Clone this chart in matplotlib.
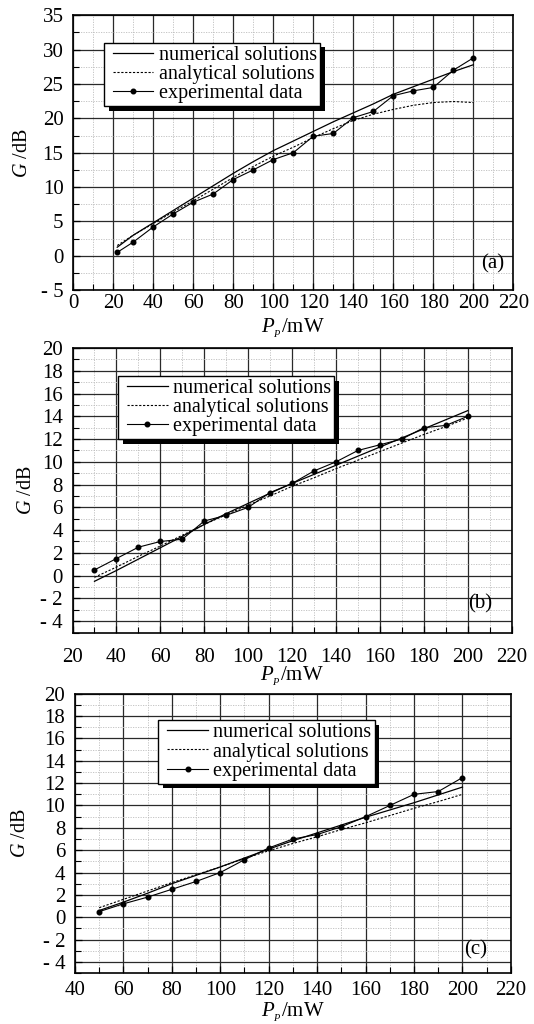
import matplotlib
matplotlib.use('Agg')
import matplotlib.pyplot as plt
import matplotlib.patheffects as pe
from matplotlib.legend_handler import HandlerLine2D
from matplotlib.lines import Line2D
from matplotlib.ticker import MultipleLocator

plt.rcParams['font.family'] = ['Liberation Serif', 'DejaVu Serif']
plt.rcParams['mathtext.fontset'] = 'custom'
plt.rcParams['mathtext.rm'] = 'Liberation Serif'
plt.rcParams['mathtext.it'] = 'Liberation Serif:italic'

# ---------------- data ----------------
SERIES_LABELS = ['numerical solutions', 'analytical solutions', 'experimental data']

A_X = [22, 30, 40, 50, 60, 70, 80, 90, 100, 110, 120, 130, 140, 150, 160, 170, 180, 190, 200]
A_NUM = [1.25, 3.0, 4.8, 6.6, 8.4, 10.2, 12.0, 13.7, 15.3, 16.7, 18.1, 19.5, 20.8, 22.1, 23.5, 24.6, 25.7, 26.8, 27.8]
A_ANA = [1.5, 3.0, 4.7, 6.4, 8.0, 9.7, 11.4, 13.0, 14.5, 15.8, 17.2, 18.5, 19.7, 20.6, 21.3, 21.9, 22.3, 22.45, 22.3]
A_EXP = [0.5, 2.0, 4.2, 6.1, 7.8, 9.0, 11.1, 12.5, 14.0, 15.0, 17.4, 17.8, 20.1, 21.0, 23.3, 24.0, 24.5, 27.0, 28.8]

B_X = [30, 40, 50, 60, 70, 80, 90, 100, 110, 120, 130, 140, 150, 160, 170, 180, 190, 200]
B_NUM = [-0.5, 0.45, 1.45, 2.45, 3.45, 4.5, 5.45, 6.35, 7.25, 8.1, 8.9, 9.7, 10.5, 11.3, 12.1, 12.9, 13.7, 14.5]
B_ANA = [-0.15, 0.75, 1.7, 2.6, 3.55, 4.5, 5.35, 6.2, 7.0, 7.85, 8.6, 9.4, 10.15, 10.9, 11.65, 12.4, 13.1, 13.85]
B_EXP = [0.5, 1.5, 2.5, 3.0, 3.2, 4.8, 5.3, 6.0, 7.3, 8.1, 9.2, 10.0, 11.0, 11.5, 12.0, 13.0, 13.2, 14.0]

C_X = [50, 60, 70, 80, 90, 100, 110, 120, 130, 140, 150, 160, 170, 180, 190, 200]
C_NUM = [0.6, 1.35, 2.15, 3.0, 3.75, 4.5, 5.3, 6.1, 6.85, 7.55, 8.25, 8.95, 9.6, 10.25, 10.95, 11.65]
C_ANA = [0.85, 1.6, 2.35, 3.1, 3.8, 4.5, 5.25, 5.95, 6.6, 7.2, 7.85, 8.45, 9.1, 9.75, 10.35, 11.0]
C_EXP = [0.5, 1.2, 1.8, 2.5, 3.2, 4.0, 5.15, 6.2, 7.0, 7.4, 8.1, 9.0, 10.0, 11.0, 11.25, 12.5]

A_XTICKS = [0, 20, 40, 60, 80, 100, 120, 140, 160, 180, 200, 220]
A_YTICKS = [-5, 0, 5, 10, 15, 20, 25, 30, 35]
A_YTICKLABELS = ['- 5', '0', '5', '10', '15', '20', '25', '30', '35']
B_XTICKS = [20, 40, 60, 80, 100, 120, 140, 160, 180, 200, 220]
C_XTICKS = [40, 60, 80, 100, 120, 140, 160, 180, 200, 220]
BC_YTICKS = [-4, -2, 0, 2, 4, 6, 8, 10, 12, 14, 16, 18, 20]
BC_YTICKLABELS = ['- 4', '- 2', '0', '2', '4', '6', '8', '10', '12', '14', '16', '18', '20']

TAGS = ['(a)', '(b)', '(c)']

XLABEL = r'$P_{_P}$/mW'
YLABEL = r'$G$ /dB'

# ---------------- figure ----------------
fig = plt.figure(figsize=(5.34, 10.24), dpi=100)

panels = [
    dict(rect=[0.1371, 0.7166, 0.8242, 0.2685], x=A_X, num=A_NUM, ana=A_ANA, exp=A_EXP,
         xticks=A_XTICKS, yticks=A_YTICKS, ylabels=A_YTICKLABELS, ylim=(-5, 35),
         xminor=10, yminor=2.5, leg=(0.070, 0.900), tag=(0.953, 0.095),
         xpad=3.0, xlab=-0.0975, ylab=-0.0936),
    dict(rect=[0.1358, 0.3823, 0.8223, 0.2778], x=B_X, num=B_NUM, ana=B_ANA, exp=B_EXP,
         xticks=B_XTICKS, yticks=BC_YTICKS, ylabels=BC_YTICKLABELS, ylim=(-5, 20),
         xminor=10, yminor=1, leg=(0.104, 0.902), tag=(0.928, 0.0995),
         xpad=11, xlab=-0.114, ylab=-0.084),
    dict(rect=[0.1403, 0.0497, 0.8165, 0.2728], x=C_X, num=C_NUM, ana=C_ANA, exp=C_EXP,
         xticks=C_XTICKS, yticks=BC_YTICKS, ylabels=BC_YTICKLABELS, ylim=(-5, 20),
         xminor=10, yminor=1, leg=(0.1915, 0.905), tag=(0.918, 0.083),
         xpad=6, xlab=-0.098, ylab=-0.102),
]

for p, tag in zip(panels, TAGS):
    ax = fig.add_axes(p['rect'])
    ax.set_axisbelow(True)
    l1, = ax.plot(p['x'], p['num'], color='black', lw=0.9, ls='-', label=SERIES_LABELS[0])
    l2, = ax.plot(p['x'], p['ana'], color='black', lw=0.8, ls=(0, (2, 1.5)), label=SERIES_LABELS[1])
    l3, = ax.plot(p['x'], p['exp'], color='black', lw=0.8, ls='-', marker='o', ms=3.3,
                  label=SERIES_LABELS[2])

    ax.set_xlim(p['xticks'][0], p['xticks'][-1])
    ax.set_ylim(*p['ylim'])
    ax.set_xticks(p['xticks'])
    ax.set_yticks(p['yticks'], p['ylabels'])
    ax.xaxis.set_minor_locator(MultipleLocator(p['xminor']))
    ax.yaxis.set_minor_locator(MultipleLocator(p['yminor']))
    ax.tick_params(which='both', direction='in', labelsize=15, colors='black')
    ax.tick_params(which='major', length=5, width=0.9)
    ax.tick_params(which='minor', length=4, width=0.8)
    ax.tick_params(axis='x', which='major', pad=p['xpad'])
    ax.tick_params(axis='y', which='major', pad=7)

    ax.grid(which='major', color='#2a2a2a', lw=0.9, ls='-')
    ax.grid(which='minor', color='#bdbdbd', lw=0.6, ls=(0, (1.5, 1.5)))
    for s in ax.spines.values():
        s.set_linewidth(1.2)
        s.set_color('black')

    ax.set_xlabel(XLABEL, fontsize=15)
    ax.set_ylabel(YLABEL, fontsize=14.5)
    ax.xaxis.set_label_coords(0.5, p['xlab'])
    ax.yaxis.set_label_coords(p['ylab'], 0.5)

    leg = ax.legend(handles=[l1, l2, l3], loc='upper left', bbox_to_anchor=p['leg'],
                    borderaxespad=0, fontsize=14.5, frameon=True, fancybox=False,
                    framealpha=1, edgecolor='black', borderpad=0.15, labelspacing=0.0,
                    handlelength=2.3, handletextpad=0.28, numpoints=1,
                    handler_map={Line2D: HandlerLine2D(xpad=0.3)})
    frame = leg.get_frame()
    frame.set_linewidth(1.0)
    frame.set_path_effects([pe.SimplePatchShadow(offset=(3.4, -3.4), shadow_rgbFace='black', alpha=1.0),
                            pe.Normal()])

    ax.text(p['tag'][0], p['tag'][1], tag, transform=ax.transAxes, fontsize=15,
            ha='center', va='center')

fig.savefig('out.png', dpi=100)
